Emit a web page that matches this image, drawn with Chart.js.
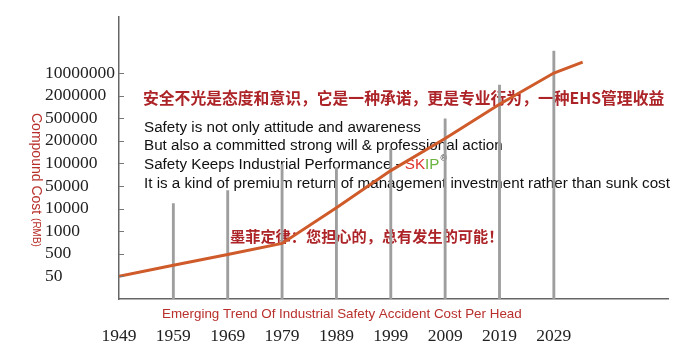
<!DOCTYPE html>
<html>
<head>
<meta charset="utf-8">
<script src="https://cdn.jsdelivr.net/npm/chart.js@4.4.1/dist/chart.umd.min.js"></script>
<style>
  html, body { margin: 0; padding: 0; background: #fff; }
  #wrap { width: 700px; height: 351px; }
</style>
</head>
<body>
<div id="wrap"><canvas id="chart" width="700" height="351"></canvas></div>
<script>
'use strict';

// y axis is an ordinal "compound cost" scale: value i sits on yLabels[i]
const yLabels = ['50', '500', '1000', '10000', '50000', '100000', '200000', '500000', '2000000', '10000000'];
const xLabels = [1949, 1959, 1969, 1979, 1989, 1999, 2009, 2019, 2029];

const barYears = [1959, 1969, 1979, 1989, 1999, 2009, 2019, 2029];
const barHeights = [3.22, 3.8, 4.95, 4.8, 5.65, 6.97, 8.47, 9.97];

const trendYears = [1949, 1959, 1969, 1979, 1989, 1999, 2009, 2019, 2029, 2034.3];
const trendValues = [0, 0.49, 0.97, 1.46, 3.04, 4.68, 6.1, 7.62, 9.0, 9.48];

const headlineCn = '安全不光是态度和意识，它是一种承诺，更是专业行为，一种EHS管理收益';
const murphyCn = '墨菲定律：您担心的，总有发生的可能！';
const textLines = [
    'Safety is not only attitude and awareness',
    'But also a committed strong will & professional action',
    'Safety Keeps Industrial Performance - ',
    'It is a kind of premium return of management investment rather than sunk cost'
];
const xTitle = 'Emerging Trend Of Industrial Safety Accident Cost Per Head';

const RED = '#ad2428';
const TITLE_RED = '#b8302c';
const SANS = '"Liberation Sans", Arial, sans-serif';
const SERIF = '"Liberation Serif", "Times New Roman", serif';
const CJK = '"Noto Sans CJK SC", sans-serif';

const annotations = {
    id: 'annotations',
    beforeDatasetsDraw(chart) {
        const { ctx } = chart;
        ctx.save();
        ctx.textBaseline = 'middle';
        ctx.textAlign = 'left';

        ctx.fillStyle = RED;
        ctx.font = `bold 15.8px ${CJK}`;
        ctx.fillText(headlineCn, 143, 98);
        ctx.font = `bold 15.2px ${CJK}`;
        ctx.fillText(murphyCn, 230, 236);

        ctx.textBaseline = 'alphabetic';
        ctx.font = `15.2px ${SANS}`;
        ctx.fillStyle = '#111';
        const baselines = [131.5, 150, 169, 187.5];
        textLines.forEach((t, i) => ctx.fillText(t, 144, baselines[i]));

        // SKIP brand, coloured, with registered mark
        let x = 144 + ctx.measureText(textLines[2]).width;
        ctx.fillStyle = '#e0312b';
        ctx.fillText('SK', x, baselines[2]);
        x += ctx.measureText('SK').width;
        ctx.fillStyle = '#6cb33f';
        ctx.fillText('IP', x, baselines[2]);
        x += ctx.measureText('IP').width + 1;
        ctx.fillStyle = '#111';
        ctx.font = `9px ${SANS}`;
        ctx.fillText('®', x, baselines[2] - 8);
        ctx.restore();
    },
    afterDraw(chart) {
        const { ctx, scales: { y }, chartArea } = chart;
        ctx.save();
        ctx.strokeStyle = '#777';
        ctx.lineWidth = 1;
        yLabels.forEach((_, i) => {
            const py = Math.round(y.getPixelForValue(i)) + 0.5;
            ctx.beginPath();
            ctx.moveTo(chartArea.left, py);
            ctx.lineTo(chartArea.left + 5, py);
            ctx.stroke();
        });

        ctx.fillStyle = TITLE_RED;
        ctx.textBaseline = 'middle';
        ctx.textAlign = 'left';
        ctx.font = `13.4px ${SANS}`;
        ctx.fillText(xTitle, 162, 314);

        ctx.font = `14px ${SANS}`;
        ctx.translate(36, 113);
        ctx.rotate(Math.PI / 2);
        ctx.fillText('Compound Cost ', 0, 0);
        const w = ctx.measureText('Compound Cost ').width;
        ctx.font = `10px ${SANS}`;
        ctx.fillText('(RMB)', w, 0);
        ctx.restore();
    }
};

const chart = new Chart(document.getElementById('chart'), {
    type: 'bar',
    data: {
        datasets: [
            {
                type: 'line',
                data: trendYears.map((x, i) => ({ x, y: trendValues[i] })),
                borderColor: '#cf5a2a',
                borderWidth: 3,
                pointRadius: 0,
                tension: 0,
                order: 0
            },
            {
                type: 'bar',
                data: barYears.map((x, i) => ({ x, y: barHeights[i] })),
                base: -1,
                backgroundColor: '#9e9e9e',
                barThickness: 2.2,
                order: 1
            }
        ]
    },
    options: {
        responsive: false,
        animation: false,
        devicePixelRatio: 1,
        layout: { padding: { left: 45, right: 32, top: 15, bottom: 0 } },
        plugins: { legend: { display: false }, tooltip: { enabled: false } },
        scales: {
            x: {
                type: 'linear',
                min: 1949,
                max: 2050,
                offset: false,
                afterBuildTicks: s => { s.ticks = xLabels.map(v => ({ value: v })); },
                afterFit: s => { s.height = 52; },
                ticks: {
                    autoSkip: false,
                    maxRotation: 0,
                    padding: 19,
                    color: '#222',
                    font: { family: SERIF, size: 17.5 },
                    callback: v => String(v)
                },
                grid: { display: false },
                border: { color: '#666', width: 1.5 }
            },
            y: {
                type: 'linear',
                min: -1,
                max: 11.5,
                afterBuildTicks: s => { s.ticks = yLabels.map((_, i) => ({ value: i })); },
                afterFit: s => { s.width = 74; },
                ticks: {
                    crossAlign: 'far',
                    padding: 6,
                    color: '#222',
                    font: { family: SERIF, size: 17.5 },
                    callback: v => yLabels[v]
                },
                grid: { display: false },
                border: { color: '#666', width: 1.5 }
            }
        }
    },
    plugins: [annotations]
});
</script>
</body>
</html>
